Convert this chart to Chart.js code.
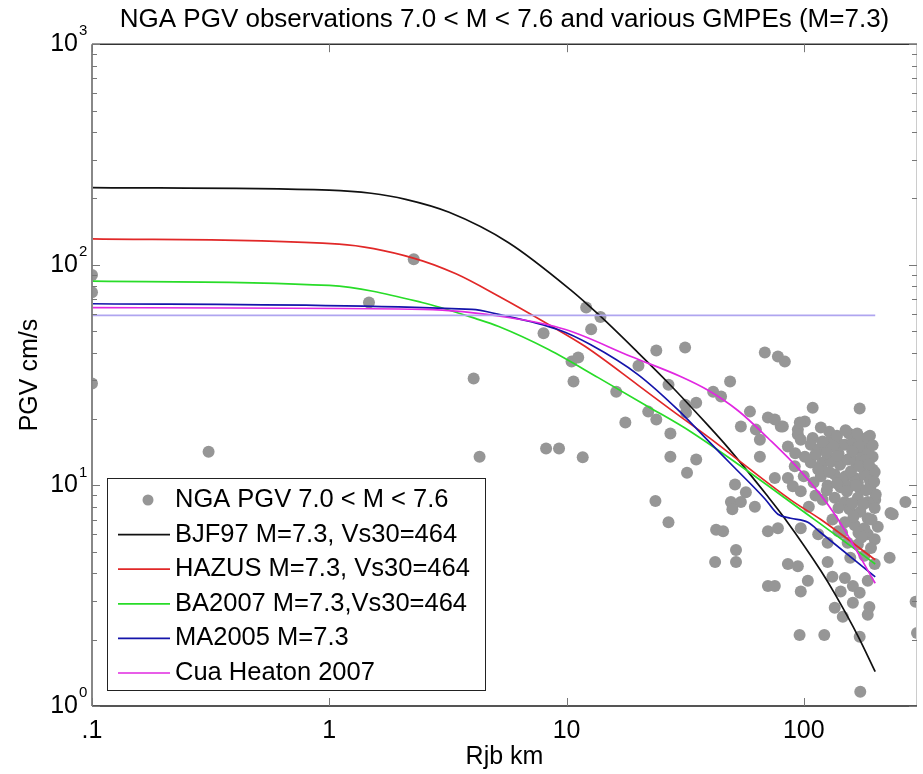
<!DOCTYPE html>
<html>
<head>
<meta charset="utf-8">
<script src="https://cdn.jsdelivr.net/npm/chart.js@4.4.0/dist/chart.umd.min.js"></script>
<style>
  html, body { margin: 0; padding: 0; background: #fff; }
</style>
</head>
<body>
<canvas id="c" width="923" height="774"></canvas>
<script>
const TITLE = 'NGA PGV observations 7.0 < M < 7.6 and various GMPEs (M=7.3)';
const X_LABEL = 'Rjb km';
const Y_LABEL = 'PGV cm/s';
const xTicks = [0.1, 1, 10, 100];
const xTickLabels = ['.1', '1', '10', '100'];
const yTicks = [1, 10, 100, 1000];
const yTickExp = ['0', '1', '2', '3'];

// NGA observations (distance km, PGV cm/s)
const obsDist = [0.1, 0.1, 0.1, 0.31, 1.47, 2.27, 4.06, 4.3,
  12.1, 13.9, 8.0, 12.7, 10.5, 11.2, 10.7, 16.2, 23.9, 31.6, 20.1, 26.9,
  17.7, 22.1, 23.9, 27.4, 31.6, 31.9, 35.2, 8.2, 9.3, 11.7, 27.4, 35.2, 32.2, 23.7, 26.9,
  68.5, 77.8, 83.2, 48.9, 41.5, 44.8, 109, 172, 59.3, 70.6, 80, 54.3, 62.8, 101, 94.4, 118,
  85.7, 65.3, 65.3, 109, 143, 164, 186, 51.3, 49.3, 57, 91.6, 101, 118, 143, 195, 126, 143,
  169, 200, 268, 232,
  75.5, 81.6, 96.2, 94.4, 97.1, 107, 115, 124, 149, 161, 177, 107, 120, 130, 142, 153, 165,
  199, 118, 135, 150, 164, 180, 157, 173, 191, 201, 75.5, 85.7, 89.9, 97.1, 135, 149, 169,
  186, 156, 173, 199, 237, 149, 164, 186, 205, 70.6, 77.8, 97.1, 115, 126, 186, 199, 153,
  169, 126, 157, 180, 199, 230, 85.7, 94.4, 70.6, 75.5, 104, 149, 161, 186, 97.1, 143,
  42.7, 45.7, 42.3, 51.8, 51.8, 62.2, 132, 135, 146, 161, 172, 189, 186, 96, 122, 172, 173,
  296, 300, 54.3, 50,
  140, 170, 130, 190, 155, 175, 145, 190, 160, 180, 140, 170,
  128, 138, 150, 168, 185, 120, 133, 170, 195, 112, 125, 138, 160, 182, 195, 115, 128, 158,
  172, 188, 110, 125, 138, 152, 166, 183, 198, 120, 140, 162, 178, 193, 132, 145, 175, 192,
  105, 112, 100, 92];
const obsPgv = [90, 75, 29, 14.2, 67.5, 106, 30.5, 13.5,
  64, 58, 49, 51, 36.4, 38, 29.6, 26.6, 40.9, 42.2, 34.9, 28.6,
  19.3, 21.6, 19.9, 17.2, 23.2, 21.4, 23.7, 14.7, 14.7, 13.4, 13.5, 13.1, 11.4, 8.5, 6.8,
  40, 38.4, 36.4, 29.6, 26.6, 25.3, 22.5, 22.3, 21.6, 20.3, 18.5, 18.5, 17.9, 19.5, 17.9, 18.3,
  15, 16.1, 13.5, 16.4, 15.3, 16.1, 14.2, 10.1, 8.4, 9.3, 12.2, 13.5, 12.2, 12.7, 11.8, 10, 9.8,
  10.3, 8.6, 8.4, 7.5,
  19.9, 18.5, 19.3, 17.0, 16.1, 15.3, 14.5, 14.8, 15.3, 15.8, 15.6, 12.7, 12.7, 12.8, 12.4, 13.1, 12.8,
  11.5, 11.0, 11.2, 11.0, 10.8, 11.2, 9.9, 9.6, 9.9, 9.1, 10.8, 10.8, 9.9, 9.4, 8.8, 8.4, 8.8,
  8.4, 7.8, 7.6, 7.9, 7.4, 6.8, 6.6, 7.1, 6.5, 6.2, 6.4, 6.4, 6.0, 5.5, 6.0, 5.7, 5.5,
  5.4, 4.5, 4.7, 4.8, 4.4, 4.7, 4.4, 4.3, 3.5, 3.5, 3.7, 3.8, 3.5, 3.7, 3.3, 3.3,
  6.3, 6.2, 4.5, 5.1, 4.5, 8.0, 3.85, 2.79, 2.54, 2.94, 3.26, 2.81, 2.59, 2.1, 2.1, 2.06, 1.16,
  2.97, 2.14, 8.4, 7.8,
  14.0, 14.5, 16.0, 16.8, 17.2, 13.3, 10.7, 10.5, 8.3, 6.4, 6.2, 6.1,
  17.5, 16.8, 17.8, 17.2, 16.5, 15.8, 15.0, 15.0, 15.2, 13.8, 14.0, 13.6, 14.3, 13.0, 13.5, 11.8, 11.5, 11.6,
  12.2, 12.5, 10.3, 9.5, 10.2, 9.4, 10.0, 9.5, 10.4, 8.6, 7.9, 7.2, 8.2, 7.0, 7.0, 6.1, 5.8, 5.2,
  8.0, 9.0, 11.0, 14.0];

// GMPE curves for M=7.3
const bjfDist = [0.1, 1.0, 1.5, 2.1, 3.2, 5.7, 10.4, 13.6, 20, 26.8, 39.5, 48, 70.6, 83, 118, 135, 169, 200];
const bjfPgv = [224, 218, 211, 198, 173, 126, 77, 59.7, 40, 29.2, 18.7, 14.8, 8.9, 7.1, 4.1, 3.23, 2.08, 1.43];
const hazusDist = [0.1, 1.1, 2.28, 3.42, 5.18, 8.4, 12, 20, 27.6, 39.5, 88, 118, 200];
const hazusPgv = [131, 124, 107, 91, 72, 53.6, 42.6, 28.5, 22, 16.6, 8.6, 7.0, 4.6];
const ba07Dist = [0.1, 1.0, 2.46, 4.15, 5.18, 8.4, 13.6, 22, 33.4, 111, 200];
const ba07Pgv = [84.3, 80.6, 67.5, 57, 52.5, 41.3, 30.8, 22.8, 17.5, 7.0, 4.4];
const ma05Dist = [0.1, 3.99, 5.18, 9.2, 12.6, 20, 29.5, 38.3, 49.3, 68.5, 77.8, 88, 104, 118, 200];
const ma05Pgv = [66.6, 62.8, 59.6, 50.9, 43.5, 31.8, 22, 16.5, 12.5, 8.7, 7.4, 7.1, 6.8, 6.1, 3.85];
const cuaDist = [0.1, 2.5, 5.7, 9.9, 18.7, 30.4, 39.5, 52.9, 70.6, 97, 135, 200];
const cuaPgv = [63.9, 62.8, 57.7, 50.9, 38.4, 31.1, 27, 21.8, 16.4, 11.6, 7.4, 3.6];
const flatDist = [0.1, 200];
const flatPgv = [59, 59];

const FONT = '"Liberation Sans", Arial, Helvetica, sans-serif';
const GREY = 'rgb(150,150,150)';

const pts = (xs, ys) => xs.map((x, i) => ({ x: x, y: ys[i] }));
const curve = (label, xs, ys, color, order) => ({
  label: label,
  data: pts(xs, ys),
  showLine: true,
  borderColor: color,
  backgroundColor: color,
  borderWidth: 1.7,
  pointRadius: 0,
  cubicInterpolationMode: 'monotone',
  fill: false,
  order: order
});

// inward ticks, box, y labels with superscripts, and a boxed legend inside the plot
const axesDeco = {
  id: 'axesDeco',
  afterDatasetsDraw(chart) {
    const ctx = chart.ctx;
    const a = chart.chartArea;
    const xs = chart.scales.x, ys = chart.scales.y;
    ctx.save();

    // frame
    ctx.strokeStyle = '#333';
    ctx.lineWidth = 1.5;
    ctx.beginPath();
    ctx.moveTo(a.left, a.top); ctx.lineTo(a.right, a.top);
    ctx.stroke();
    ctx.strokeStyle = '#ccc';
    ctx.lineWidth = 1;
    ctx.beginPath();
    ctx.moveTo(a.right - 0.5, a.top); ctx.lineTo(a.right - 0.5, a.bottom);
    ctx.stroke();
    ctx.strokeStyle = '#555';
    ctx.lineWidth = 2;
    ctx.beginPath();
    ctx.moveTo(a.left, a.bottom); ctx.lineTo(a.right, a.bottom);
    ctx.stroke();
    ctx.strokeStyle = '#888';
    ctx.beginPath();
    ctx.moveTo(a.left, a.top); ctx.lineTo(a.left, a.bottom);
    ctx.stroke();

    // y ticks, major + minor, on both sides
    ctx.strokeStyle = '#777';
    ctx.lineWidth = 1;
    yTicks.forEach((d, k) => {
      const mags = k < yTicks.length - 1 ? [1, 2, 3, 4, 5, 6, 7, 8, 9] : [1];
      mags.forEach(m => {
        const py = Math.round(ys.getPixelForValue(d * m)) + 0.5;
        const len = m === 1 ? 8 : 5;
        ctx.beginPath();
        ctx.moveTo(a.left, py); ctx.lineTo(a.left + len, py);
        ctx.moveTo(a.right, py); ctx.lineTo(a.right - len, py);
        ctx.stroke();
      });
    });
    // x major ticks top and bottom
    xTicks.forEach(v => {
      const px = Math.round(xs.getPixelForValue(v)) + 0.5;
      ctx.beginPath();
      ctx.moveTo(px, a.bottom); ctx.lineTo(px, a.bottom - 8);
      ctx.moveTo(px, a.top); ctx.lineTo(px, a.top + 8);
      ctx.stroke();
    });

    // y tick labels 10^n
    ctx.fillStyle = '#000';
    yTicks.forEach((v, k) => {
      const py = ys.getPixelForValue(v);
      ctx.font = '25px ' + FONT;
      ctx.textAlign = 'right';
      ctx.textBaseline = 'middle';
      ctx.fillText('10', 78, py);
      ctx.font = '15px ' + FONT;
      ctx.textAlign = 'left';
      ctx.fillText(yTickExp[k], 79, py - 13);
    });

    // legend
    const items = chart.data.datasets.filter(ds => ds.label);
    const lx = a.left + 15, ly = a.bottom - 228, lw = 378, lh = 212;
    ctx.fillStyle = '#fff';
    ctx.fillRect(lx, ly, lw, lh);
    ctx.strokeStyle = '#222';
    ctx.lineWidth = 1;
    ctx.strokeRect(lx + 0.5, ly + 0.5, lw, lh);
    items.forEach((ds, i) => {
      const cy = ly + 22 + i * 34.6;
      if (ds.showLine) {
        ctx.strokeStyle = ds.borderColor;
        ctx.lineWidth = 1.7;
        ctx.beginPath();
        ctx.moveTo(lx + 11, cy); ctx.lineTo(lx + 63, cy);
        ctx.stroke();
      } else {
        ctx.fillStyle = ds.backgroundColor;
        ctx.beginPath();
        ctx.arc(lx + 41, cy, 5.5, 0, Math.PI * 2);
        ctx.fill();
      }
      ctx.fillStyle = '#000';
      ctx.font = '25.5px ' + FONT;
      ctx.textAlign = 'left';
      ctx.textBaseline = 'middle';
      ctx.fillText(ds.label, lx + 68, cy);
    });
    ctx.restore();
  }
};

new Chart(document.getElementById('c'), {
  type: 'scatter',
  data: {
    datasets: [
      {
        label: 'NGA PGV 7.0 < M < 7.6',
        data: pts(obsDist, obsPgv),
        backgroundColor: GREY,
        borderWidth: 0,
        pointRadius: 6,
        pointHoverRadius: 6,
        order: 10
      },
      curve('BJF97 M=7.3, Vs30=464', bjfDist, bjfPgv, '#111111', 6),
      curve('HAZUS M=7.3, Vs30=464', hazusDist, hazusPgv, 'rgb(225,40,40)', 5),
      curve('BA2007 M=7.3,Vs30=464', ba07Dist, ba07Pgv, 'rgb(40,220,40)', 4),
      curve('MA2005 M=7.3', ma05Dist, ma05Pgv, 'rgb(20,20,170)', 3),
      curve('Cua Heaton 2007', cuaDist, cuaPgv, 'rgb(225,40,225)', 2),
      curve('', flatDist, flatPgv, 'rgb(175,165,240)', 1)
    ]
  },
  options: {
    responsive: false,
    animation: false,
    layout: { padding: { top: 0, right: 3, bottom: 0, left: 0 } },
    plugins: {
      legend: { display: false },
      tooltip: { enabled: false },
      title: {
        display: true,
        text: TITLE,
        fullSize: false,
        color: '#000',
        font: { family: FONT, size: 26, weight: 'normal' },
        padding: { top: 4, bottom: 9 }
      }
    },
    scales: {
      x: {
        type: 'logarithmic',
        min: 0.1,
        max: 300,
        afterBuildTicks: s => { s.ticks = xTicks.map(v => ({ value: v })); },
        afterFit: s => { s.height = 68; },
        ticks: {
          autoSkip: false,
          maxRotation: 0,
          padding: 10,
          color: '#000',
          font: { family: FONT, size: 25 },
          callback: (v) => xTickLabels[xTicks.indexOf(v)] || ''
        },
        grid: { display: false, drawTicks: false },
        border: { display: false },
        title: {
          display: true,
          text: X_LABEL,
          color: '#000',
          font: { family: FONT, size: 25 },
          padding: { top: 0, bottom: 2 }
        }
      },
      y: {
        type: 'logarithmic',
        min: 1,
        max: 1000,
        afterBuildTicks: s => { s.ticks = yTicks.map(v => ({ value: v })); },
        afterFit: s => { s.width = 92; },
        ticks: { display: false },
        grid: { display: false, drawTicks: false },
        border: { display: false },
        title: {
          display: true,
          text: Y_LABEL,
          color: '#000',
          font: { family: FONT, size: 25 },
          padding: { top: 15, bottom: 0 }
        }
      }
    }
  },
  plugins: [axesDeco]
});
</script>
</body>
</html>
